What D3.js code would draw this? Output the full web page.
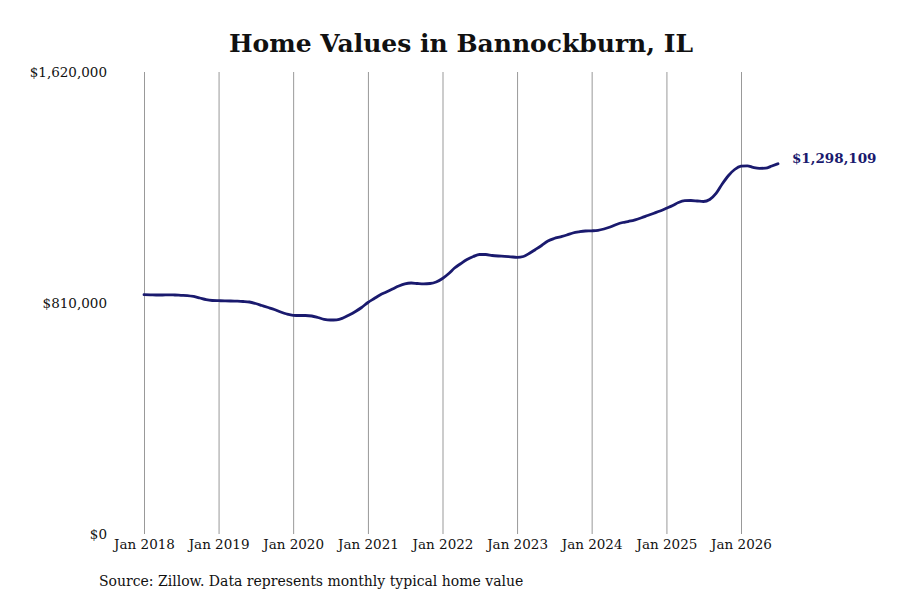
<!DOCTYPE html>
<html>
<head>
<meta charset="utf-8">
<script src="https://cdn.jsdelivr.net/npm/d3@7"></script>
<style>
  body { margin: 0; background: #fff; }
  svg text { font-family: "DejaVu Serif", serif; }
</style>
</head>
<body>
<div id="result"></div>
<script>
// monthly typical home value, Jan 2018 .. Jul 2026
var startMonth = "2018-01";
var values = [
  839100, 838800, 838000, 838000, 838800, 838000, 837000, 836000, 832800, 827500, 821600, 818800,
  818100, 817700, 817000, 816300, 815300, 813500, 808200, 801200, 794200, 787200, 778400, 771400,
  766900, 766200, 766200, 764400, 759200, 752800, 750400, 751100, 757400, 767900, 780200, 794200,
  811800, 825800, 838100, 848600, 859100, 869600, 877300, 880100, 878400, 877300, 878400, 883600,
  895900, 913400, 932700, 948500, 962500, 973000, 980100, 980100, 976600, 974800, 973800, 972000,
  970200, 973000, 983600, 997600, 1011600, 1027400, 1036200, 1042100, 1048400, 1055500, 1059700, 1062500,
  1063200, 1064900, 1069500, 1076500, 1085300, 1092300, 1096500, 1101700, 1108800, 1116800, 1124900, 1132600,
  1142100, 1151900, 1162400, 1168700, 1169400, 1167700, 1165900, 1172900, 1194000, 1227300, 1257100, 1278100,
  1289700, 1291100, 1285800, 1282300, 1282700, 1290400, 1298109
];
var yTicks = [0, 810000, 1620000];
var xTickYears = [2018, 2019, 2020, 2021, 2022, 2023, 2024, 2025, 2026];
var title = "Home Values in Bannockburn, IL";
var source = "Source: Zillow. Data represents monthly typical home value";

var width = 900, height = 600;
var lineColor = "#1a1a6e";

var parse = d3.timeParse("%Y-%m");
var t0 = parse(startMonth);
var data = values.map(function(v, i) {
  return { date: d3.timeMonth.offset(t0, i), val: v };
});

var x = d3.scaleTime()
    .domain([new Date(2018, 0, 1), new Date(2026, 0, 1)])
    .range([144, 741]);

var y = d3.scaleLinear()
    .domain([0, 1620000])
    .range([534, 72]);

var svg = d3.select("#result").append("svg")
    .attr("width", width)
    .attr("height", height);

svg.append("text")
    .attr("x", 461)
    .attr("y", 52)
    .attr("text-anchor", "middle")
    .style("font-size", "25px")
    .style("font-weight", "bold")
    .attr("fill", "#111")
    .text(title);

// vertical grid lines at each January
var xTicks = xTickYears.map(function(yr) { return new Date(yr, 0, 1); });
svg.append("g")
  .selectAll("line")
  .data(xTicks)
  .enter().append("line")
    .attr("x1", function(d) { return x(d) + 0.5; })
    .attr("x2", function(d) { return x(d) + 0.5; })
    .attr("y1", y(1620000))
    .attr("y2", y(0))
    .attr("stroke", "#999")
    .attr("stroke-width", 1);

var xAxis = d3.axisBottom(x)
    .tickValues(xTicks)
    .tickSize(0)
    .tickPadding(5)
    .tickFormat(d3.timeFormat("Jan %Y"));

svg.append("g")
    .attr("class", "x axis")
    .attr("transform", "translate(0," + y(0) + ")")
    .call(xAxis)
    .call(function(g) { g.select(".domain").remove(); })
    .selectAll("text")
    .style("font-family", "DejaVu Serif, serif")
    .style("font-size", "13.5px")
    .attr("fill", "#111");

var yAxis = d3.axisLeft(y)
    .tickValues(yTicks)
    .tickSize(0)
    .tickPadding(0)
    .tickFormat(function(d) { return "$" + d3.format(",")(d); });

svg.append("g")
    .attr("class", "y axis")
    .attr("transform", "translate(107,0)")
    .call(yAxis)
    .call(function(g) { g.select(".domain").remove(); })
    .selectAll("text")
    .style("font-family", "DejaVu Serif, serif")
    .style("font-size", "13.5px")
    .attr("fill", "#111");

var line = d3.line()
    .x(function(d) { return x(d.date); })
    .y(function(d) { return y(d.val); })
    .curve(d3.curveMonotoneX);

svg.append("path")
    .datum(data)
    .attr("d", line)
    .attr("fill", "none")
    .attr("stroke", lineColor)
    .attr("stroke-width", 2.8)
    .attr("stroke-linejoin", "round")
    .attr("stroke-linecap", "round");

var last = data[data.length - 1];
svg.append("text")
    .attr("x", x(last.date) + 14)
    .attr("y", y(last.val) - 1)
    .style("font-size", "13.5px")
    .style("font-weight", "bold")
    .attr("fill", lineColor)
    .text("$" + d3.format(",")(last.val));

svg.append("text")
    .attr("x", 99)
    .attr("y", 586)
    .style("font-size", "14px")
    .attr("fill", "#111")
    .text(source);
</script>
</body>
</html>
